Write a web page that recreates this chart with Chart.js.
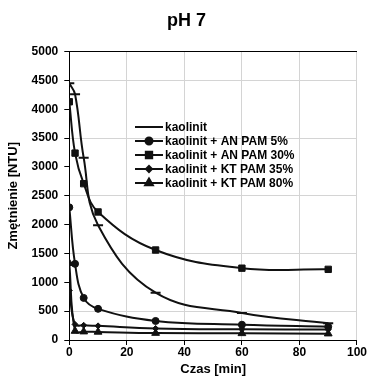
<!DOCTYPE html>
<html>
<head>
<meta charset="utf-8">
<script src="https://cdn.jsdelivr.net/npm/chart.js@4/dist/chart.umd.min.js"></script>
<style>
  html, body { margin: 0; padding: 0; background: #fff; }
  #wrap { width: 367px; height: 379px; }
</style>
</head>
<body>
<div id="wrap"><canvas id="myChart" width="367" height="379"></canvas></div>
<script>
// czas [min]
var czas = [0, 2, 5, 10, 30, 60, 90];
// zmetnienie [NTU]
var kaolinit = [4450, 4260, 3160, 1990, 820, 470, 290];
var anPam5 = [2300, 1320, 730, 540, 330, 265, 230];
var anPam30 = [4130, 3240, 2710, 2220, 1560, 1245, 1225];
var ktPam35 = [860, 270, 255, 245, 200, 185, 180];
var ktPam80 = [1330, 155, 145, 140, 120, 115, 110];

var names = ["kaolinit", "kaolinit + AN PAM 5%", "kaolinit + AN PAM 30%", "kaolinit + KT PAM 35%", "kaolinit + KT PAM 80%"];
var styles = ["line", "circle", "rect", "rectRot", "triangle"];
var radii = [5, 3.5, 4.5, 3, 4.5];
var series = [kaolinit, anPam5, anPam30, ktPam35, ktPam80];

var FONT = "'Liberation Sans', Arial, sans-serif";

function pts(vals) {
  return czas.map(function (x, i) { return { x: x, y: vals[i] }; });
}

var datasets = series.map(function (s, i) {
  return {
    label: names[i],
    data: pts(s),
    borderColor: "#111",
    backgroundColor: "#111",
    borderWidth: 2,
    pointStyle: styles[i],
    pointRadius: radii[i],
    pointBorderWidth: i == 0 ? 2 : 1,
    tension: 0.4,
    fill: false
  };
});

// legenda wewnatrz wykresu
const insideLegend = {
  id: "insideLegend",
  afterDatasetsDraw(chart) {
    const ctx = chart.ctx;
    ctx.save();
    ctx.font = "bold 12px " + FONT;
    ctx.textBaseline = "middle";
    chart.data.datasets.forEach(function (ds, i) {
      const y = 127 + i * 14;
      ctx.strokeStyle = "#111";
      ctx.lineWidth = 2;
      ctx.beginPath();
      ctx.moveTo(135, y);
      ctx.lineTo(163, y);
      ctx.stroke();
      ctx.fillStyle = "#111";
      Chart.helpers.drawPoint(ctx, {
        pointStyle: ds.pointStyle,
        radius: ds.pointRadius,
        borderWidth: ds.pointBorderWidth,
        rotation: 0
      }, 149, y);
      ctx.fillStyle = "#000";
      ctx.fillText(ds.label, 165, y + 1);
    });
    ctx.restore();
  }
};

new Chart("myChart", {
  type: "line",
  data: { datasets: datasets },
  plugins: [insideLegend],
  options: {
    responsive: false,
    animation: false,
    layout: { padding: { left: 6, right: 0, top: 6, bottom: 2 } },
    plugins: {
      legend: { display: false },
      tooltip: { enabled: false },
      title: {
        display: true,
        text: "pH 7",
        color: "#000",
        font: { family: FONT, size: 18, weight: "bold" },
        padding: { top: 4, bottom: 20 }
      }
    },
    scales: {
      x: {
        type: "linear",
        min: 0,
        max: 100,
        ticks: {
          stepSize: 20,
          color: "#000",
          font: { family: FONT, size: 12, weight: "bold" },
          padding: 0,
          maxRotation: 0,
          callback: function (v) { return String(v); }
        },
        grid: {
          color: function (c) { return c.tick && c.tick.value == 0 ? "#000" : "#d4d4d4"; },
          tickColor: "#000",
          tickLength: 5,
          lineWidth: 1
        },
        border: { color: "#000", width: 1 },
        title: {
          display: true,
          text: "Czas [min]",
          color: "#000",
          font: { family: FONT, size: 13, weight: "bold" },
          padding: { top: 2, bottom: 0 }
        }
      },
      y: {
        min: 0,
        max: 5000,
        ticks: {
          stepSize: 500,
          color: "#000",
          font: { family: FONT, size: 12, weight: "bold" },
          padding: 6,
          callback: function (v) { return String(v); }
        },
        grid: {
          color: function (c) {
            var v = c.tick ? c.tick.value : 0;
            if (v == 5000) return "#000";
            if (v % 1000 == 500) return "#d4d4d4";
            return "rgba(0,0,0,0)";
          },
          tickColor: "#000",
          tickLength: 5,
          lineWidth: 1
        },
        border: { color: "#000", width: 1 },
        title: {
          display: true,
          text: "Zmętnienie [NTU]",
          color: "#000",
          font: { family: FONT, size: 13, weight: "bold" },
          padding: { top: 0, bottom: 4 }
        }
      }
    }
  }
});
</script>
</body>
</html>
